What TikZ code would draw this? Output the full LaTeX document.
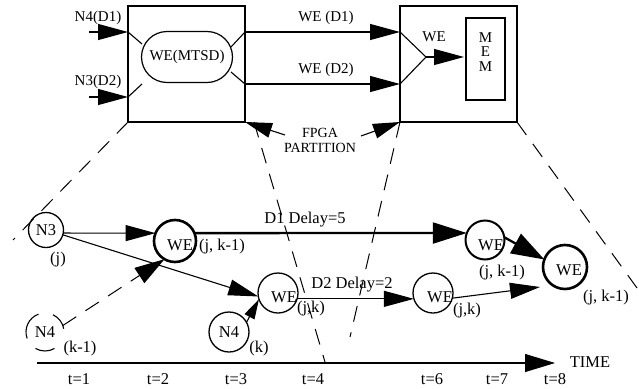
\documentclass[tikz,border=0pt]{standalone}
\usepackage{fontspec}
\setmainfont{Liberation Serif}
\usetikzlibrary{arrows.meta,shapes.misc}

\begin{document}
\begin{tikzpicture}[x=1pt,y=-1pt,
  every node/.style={inner sep=0pt, outer sep=0pt, font=\fontsize{16.5}{18}\selectfont},
  small/.style={font=\fontsize{15}{17}\selectfont},
  box/.style={draw, line width=1.3pt},
  ln/.style={line width=1.1pt},
  circ/.style={circle, draw, line width=1.3pt},
  circmid/.style={circle, draw, line width=2pt},
  circthick/.style={circle, draw, line width=2.6pt},
  arr/.style={ln, -{Triangle[length=30pt,width=16pt]}},
  arrbig/.style={ln, -{Triangle[length=33pt,width=21pt]}},
  arrsmall/.style={ln, -{Triangle[length=20pt,width=11pt]}},
  dashline/.style={line width=1pt, dash pattern=on 16pt off 11pt},
]
\useasboundingbox (0,0) rectangle (639,388);

% ---------- upper part: the two FPGA partitions ----------
\node[box, minimum width=117pt, minimum height=116pt] (lbox) at (186.5,64) {};
\node[box, minimum width=117pt, minimum height=116pt] (rbox) at (458.5,64) {};
\node[draw, rounded rectangle, line width=1.2pt, minimum width=91pt,
      minimum height=51pt, small] (mtsd) at (187,57) {WE(MTSD)};
\node[box, minimum width=39pt, minimum height=82pt] (mem) at (485.5,59) {};
\node[small, align=center, font=\fontsize{15}{14.5}\selectfont] (memtxt) at (485.5,52) {M\\E\\M};

% ports on the box borders
\coordinate (t1) at (89,32);   \coordinate (a1) at (128,32);
\coordinate (t2) at (89,97);   \coordinate (a2) at (128,97);
\coordinate (m1) at (142,44);  \coordinate (m2) at (142,84);
\coordinate (m3) at (231,47);  \coordinate (m4) at (231,72);
\coordinate (b1) at (245,32);  \coordinate (b2) at (245,84);
\coordinate (c1) at (400,32);  \coordinate (c2) at (400,84);
\coordinate (merge) at (426,57);

\node[small] (lin1) at (98,18) {N4(D1)};
\node[small] (lin2) at (98,82) {N3(D2)};
\draw[arr] (t1) -- (a1);
\draw[arr] (t2) -- (a2);
\draw[ln] (a1) -- (m1);
\draw[ln] (a2) -- (m2);
\draw[ln] (m3) -- (b1);
\draw[ln] (m4) -- (b2);

\node[small] (lout1) at (326,18) {WE (D1)};
\node[small] (lout2) at (326,70) {WE (D2)};
\draw[arr] (b1) -- (c1);
\draw[arr] (b2) -- (c2);

\draw[ln] (c1) -- (merge) -- (c2);
\node[small] (wetop) at (434,37) {WE};
\draw[arr, shorten >=2pt] (merge) -- (mem.west |- merge);

% partition label
\node[align=center, font=\fontsize{14}{15}\selectfont] (fpga) at (320,140) {FPGA\\PARTITION};
\coordinate (f1) at (285,135);
\coordinate (f2) at (361,136);
\draw[ln, -{Triangle[length=27pt,width=15pt]}] (f1) -- (lbox.south east);
\draw[ln, -{Triangle[length=27pt,width=15pt]}] (f2) -- (rbox.south west);

% projection lines
\coordinate (d1) at (13,240);
\coordinate (d2s) at (254,122);
\coordinate (d2e) at (325,362);
\coordinate (d3) at (350,337);
\coordinate (d4) at (637,288);
\draw[dashline] (lbox.south west) -- (d1);
\draw[dashline] (d2s) -- (d2e);
\draw[dashline] (rbox.south west) -- (d3);
\draw[dashline] (rbox.south east) -- (d4);

% ---------- lower part: schedule over time ----------
\node[circ, minimum size=35pt] (n3) at (46,230) {N3};
\node (n3l) at (58,260) {(j)};

\node[circthick, minimum size=42pt] (we1) at (175,241) {};
\node (we1t) at (180,245) {WE};
\node (we1l) at (222,247) {(j, k-1)};

\node[circle, minimum size=38pt] (n4a) at (45,332) {N4};
\draw[ln] (n4a.110) arc[start angle=110, end angle=200, radius=19pt];
\draw[ln] (n4a.240) arc[start angle=240, end angle=300, radius=19pt];
\draw[ln] (n4a.10) arc[start angle=10, end angle=65, radius=19pt];
\node (n4al) at (80,349) {(k-1)};

\node[circ, minimum size=40pt] (we2) at (278,293) {};
\node (we2t) at (284,297) {WE};
\node (we2l) at (311,309) {(j,k)};

\node[circ, minimum size=40pt] (n4b) at (229,332) {N4};
\node (n4bl) at (259,349) {(k)};

\node[circ, minimum size=40pt] (we4) at (433,293) {};
\node (we4t) at (440,297) {WE};
\node (we4l) at (467,311) {(j,k)};

\node[circmid, minimum size=39pt] (we3) at (485,240) {};
\node (we3t) at (491,245) {WE};
\node (we3l) at (502,273) {(j, k-1)};

\node[circthick, minimum size=44pt] (we5) at (565,267) {};
\node (we5t) at (569,270) {WE};
\node (we5l) at (606,298) {(j, k-1)};

\draw[arr] (n3.-10) -- (we1.158);
\draw[arr] (n3.-16) -- (we2.190);
\draw[line width=1pt, dash pattern=on 16pt off 11pt, -{Triangle[length=30pt,width=18pt]}]
  (n4a.20) -- (we1.240);
\draw[arrsmall] (n4b.29) -- (we2.198);

\node (d1l) at (305,220) {D1 Delay=5};
\draw[line width=2.3pt, -{Triangle[length=34pt,width=21pt]}] (we1.22) -- (we3.159);

\node (d2l) at (352,285) {D2 Delay=2};
\draw[arr] (we2.-17) -- (we4.197);

\draw[line width=2.3pt, -{Triangle[length=33pt,width=22pt]}] (we3.8) -- (we5.160);
\coordinate (e1) at (540,287);
\draw[arr] (we4.-15) -- (e1);

% time axis
\coordinate (ts) at (37,363);
\coordinate (te) at (555,363);
\draw[ln, -{Triangle[length=30pt,width=18pt]}] (ts) -- (te);
\node (time) at (590,362) {TIME};
\node (tk1) at (79,379) {t=1};
\node (tk2) at (158,379) {t=2};
\node (tk3) at (236,379) {t=3};
\node (tk4) at (313,379) {t=4};
\node (tk6) at (432,379) {t=6};
\node (tk7) at (497,379) {t=7};
\node (tk8) at (555,379) {t=8};
\end{tikzpicture}
\end{document}
